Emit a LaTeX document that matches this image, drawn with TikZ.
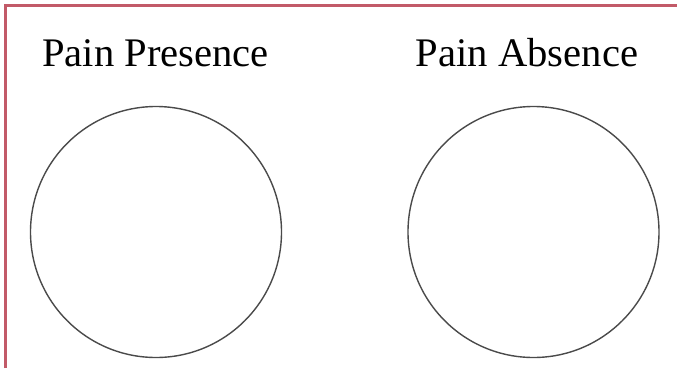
\documentclass[tikz,border=0pt]{standalone}
\usepackage{fontspec}
\setmainfont{Liberation Serif}
\definecolor{frame}{HTML}{C25A68}
\definecolor{ring}{HTML}{4A4A4A}
\begin{document}
\begin{tikzpicture}[x=1pt,y=-1pt,
  ringstyle/.style={draw=ring,line width=1.4pt,circle,minimum size=251pt,inner sep=0pt},
  titlestyle/.style={font=\fontsize{40.6}{44}\selectfont,anchor=base,inner sep=0pt,text=black}]
\useasboundingbox (0,0) rectangle (677,368);
\fill[white] (0,0) rectangle (677,368);
\coordinate (tl) at (5.5,5.5);
\coordinate (tr) at (677,5.5);
\coordinate (bl) at (5.5,368);
\draw[frame,line width=2.2pt] (bl) -- (tl) -- (tr);
\node[titlestyle] (t1) at (155.5,66) {Pain Presence};
\node[titlestyle] (t2) at (527,66) {Pain Absence};
\node[ringstyle] (c1) at (156,232) {};
\node[ringstyle] (c2) at (533.5,232) {};
\end{tikzpicture}
\end{document}
